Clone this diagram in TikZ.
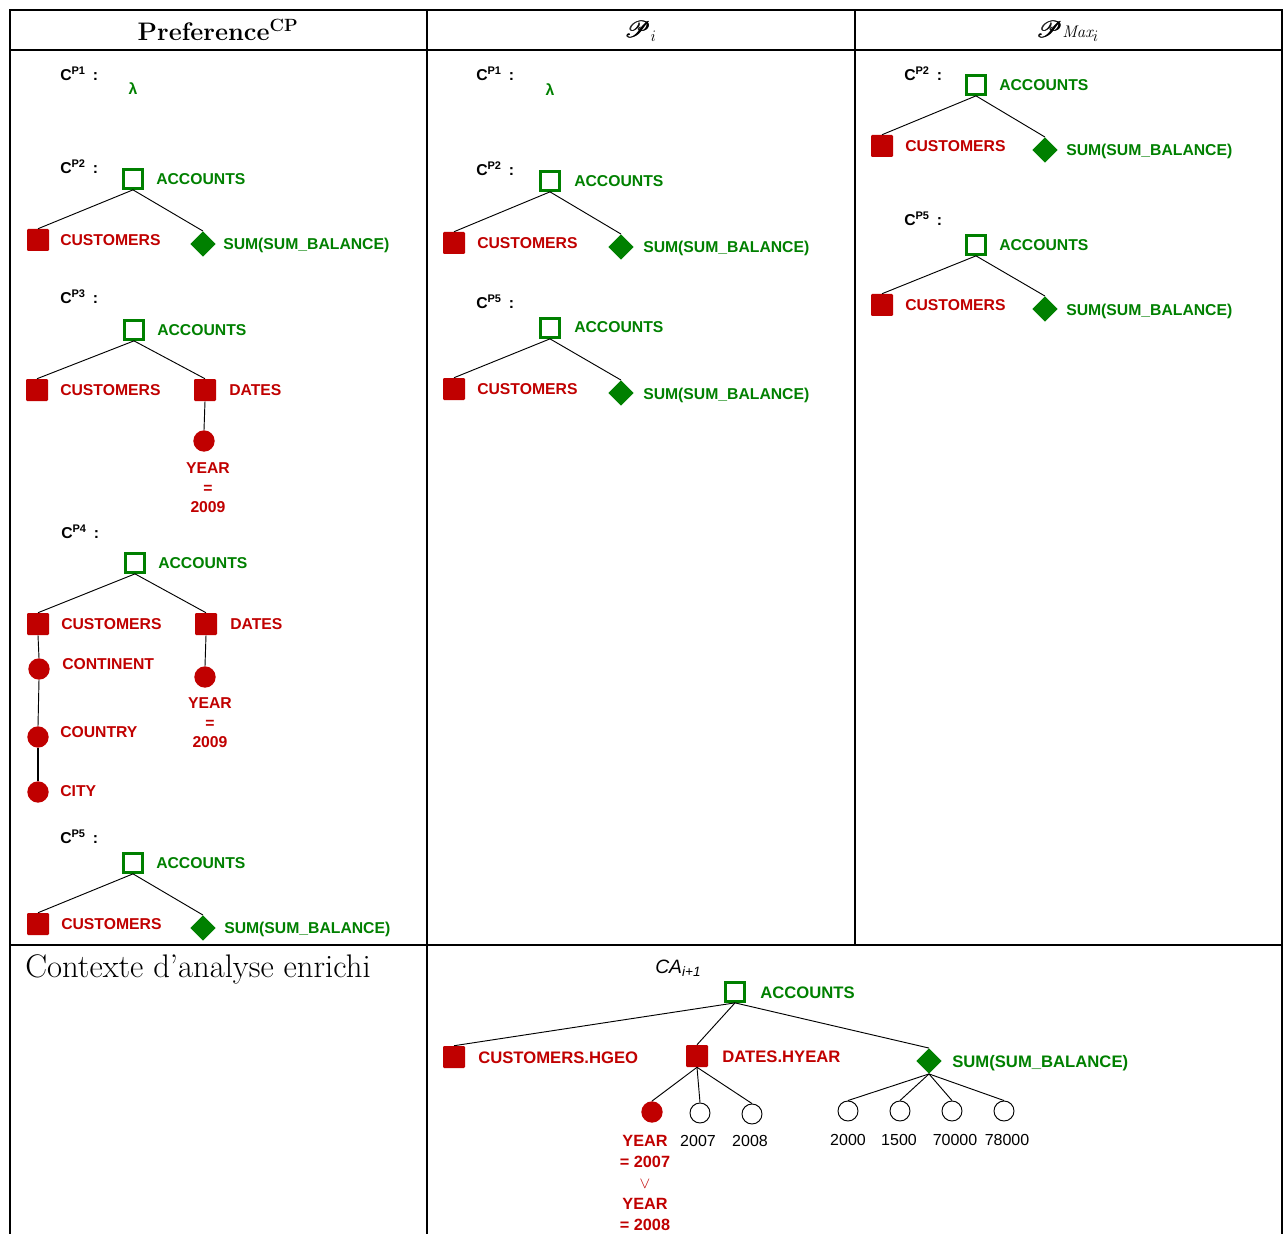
\documentclass[tikz,border=0pt]{standalone}
\usepackage{fontspec}
\usepackage{amsmath,amssymb}
\usepackage{mathrsfs}
\usetikzlibrary{shapes.geometric}
\newfontfamily\arial{Liberation Sans}
\definecolor{accclr}{RGB}{0,128,0}
\definecolor{dimclr}{RGB}{192,0,0}
\newcommand{\lblfont}{\arial\bfseries\fontsize{11.8}{14.6}\selectfont}
\tikzset{
  acc/.style={rectangle,draw=accclr,line width=1.8pt,fill=white,
              minimum size=14.5pt,inner sep=0pt},
  dim/.style={rectangle,fill=dimclr,minimum size=16.5pt,inner sep=0pt,
              rounded corners=0.8pt},
  msr/.style={diamond,fill=accclr,minimum size=19pt,inner sep=0pt},
  lvl/.style={circle,fill=dimclr,minimum size=16pt,inner sep=0pt},
  val/.style={circle,draw,line width=0.7pt,minimum size=15pt,inner sep=0pt},
  txt/.style={font=\lblfont,inner sep=0pt,anchor=west,
              text height=8.5pt,text depth=0pt},
  gtxt/.style={txt,text=accclr},
  rtxt/.style={txt,text=dimclr},
  big/.style={font=\arial\bfseries\fontsize{12.5}{15}\selectfont,text height=9pt},
  stack/.style={font=\lblfont,inner sep=0pt,align=center,text=dimclr},
  num/.style={font=\arial\fontsize{12}{14}\selectfont,inner sep=0pt,
              text height=8.6pt,text depth=0pt},
  edge/.style={line width=0.7pt},
  tbl/.style={line width=1.5pt},
  hdr/.style={inner sep=0pt},
}

\begin{document}
\begin{tikzpicture}[x=0.75pt,y=-0.75pt]
\useasboundingbox (0,0) rectangle (1283,1234);

% Table frame
\draw[tbl] (10,1234) -- (10,10) -- (1282,10) -- (1282,1234);
\draw[tbl] (10,50) -- (1282,50);
\draw[tbl] (10,945) -- (1282,945);
\draw[tbl] (427,10) -- (427,1234);
\draw[tbl] (855,10) -- (855,945);

% Headers
\node[hdr] (hPref) at (218,30) {\fontsize{19}{22}\selectfont\bfseries Preference\textsuperscript{CP}};
\node[hdr] (hPi)   at (641,31) {\fontsize{18}{20}\selectfont$\pmb{\mathscr{P}}_i$};
\node[hdr] (hPmax) at (1068,31) {\fontsize{18}{20}\selectfont$\pmb{\mathscr{P}}{\scriptstyle\mathit{Max}}_i$};
\node[hdr,anchor=west] (hCtx) at (25,969) {\fontsize{24.5}{27}\selectfont Contexte d'analyse enrichi};

% ---- Preference^CP ----
% C^P1
\node[txt] (lPa1) at (60,75) {C\textsuperscript{P1}\hspace{0.45em}:};
\node[gtxt,anchor=center] (lamPa1) at (133,89) {λ};

% C^P2
\node[txt] (lPa2) at (60,168) {C\textsuperscript{P2}\hspace{0.45em}:};
\node[acc] (accPa2) at (133,179) {};
\node[gtxt] (tAccPa2) at (156,179) {ACCOUNTS};
\node[dim] (cusPa2) at (38,240) {};
\node[rtxt] (tCusPa2) at (60,240) {CUSTOMERS};
\node[msr] (sumPa2) at (203,244) {};
\node[gtxt] (tSumPa2) at (223,244) {SUM(SUM\_BALANCE)};
\draw[edge] (accPa2.south) -- (cusPa2.north);
\draw[edge] (accPa2.south) -- (sumPa2.north);

% C^P3
\node[txt] (lPa3) at (60,298) {C\textsuperscript{P3}\hspace{0.45em}:};
\node[acc] (accPa3) at (134,330) {};
\node[gtxt] (tAccPa3) at (157,330) {ACCOUNTS};
\node[dim] (cusPa3) at (37,390) {};
\node[rtxt] (tCusPa3) at (60,390) {CUSTOMERS};
\node[dim] (datPa3) at (205,390) {};
\node[rtxt] (tDatPa3) at (229,390) {DATES};
\node[lvl] (yrPa3) at (204,441) {};
\node[stack] (tYrPa3) at (208,488) {YEAR\\=\\2009};
\draw[edge] (accPa3.south) -- (cusPa3.north);
\draw[edge] (accPa3.south) -- (datPa3.north);
\draw[edge] (datPa3.south) -- (yrPa3.north);

% C^P4
\node[txt] (lPa4) at (61,533) {C\textsuperscript{P4}\hspace{0.45em}:};
\node[acc] (accPa4) at (135,563) {};
\node[gtxt] (tAccPa4) at (158,563) {ACCOUNTS};
\node[dim] (cusPa4) at (38,624) {};
\node[rtxt] (tCusPa4) at (61,624) {CUSTOMERS};
\node[dim] (datPa4) at (206,624) {};
\node[rtxt] (tDatPa4) at (230,624) {DATES};
\node[lvl] (conPa4) at (39,669) {};
\node[rtxt] (tConPa4) at (62,664) {CONTINENT};
\node[lvl] (ctyPa4) at (38,737) {};
\node[rtxt] (tCtyPa4) at (60,732) {COUNTRY};
\node[lvl] (citPa4) at (38,792) {};
\node[rtxt] (tCitPa4) at (60,791) {CITY};
\node[lvl] (yrPa4) at (205,677) {};
\node[stack] (tYrPa4) at (210,723) {YEAR\\=\\2009};
\draw[edge] (accPa4.south) -- (cusPa4.north);
\draw[edge] (accPa4.south) -- (datPa4.north);
\draw[edge] (cusPa4.south) -- (conPa4.north);
\draw[edge] (conPa4.south) -- (ctyPa4.north);
\draw[edge,line width=1.4pt] (ctyPa4.south) -- (citPa4.north);
\draw[edge] (datPa4.south) -- (yrPa4.north);

% C^P5
\node[txt] (lPa5) at (60,838) {C\textsuperscript{P5}\hspace{0.45em}:};
\node[acc] (accPa5) at (133,863) {};
\node[gtxt] (tAccPa5) at (156,863) {ACCOUNTS};
\node[dim] (cusPa5) at (38,924) {};
\node[rtxt] (tCusPa5) at (61,924) {CUSTOMERS};
\node[msr] (sumPa5) at (203,928) {};
\node[gtxt] (tSumPa5) at (224,928) {SUM(SUM\_BALANCE)};
\draw[edge] (accPa5.south) -- (cusPa5.north);
\draw[edge] (accPa5.south) -- (sumPa5.north);

% ---- P_i ----
\node[txt] (lPi1) at (476,75) {C\textsuperscript{P1}\hspace{0.45em}:};
\node[gtxt,anchor=center] (lamPi1) at (550,90) {λ};

\node[txt] (lPi2) at (476,170) {C\textsuperscript{P2}\hspace{0.45em}:};
\node[acc] (accPi2) at (550,181) {};
\node[gtxt] (tAccPi2) at (574,181) {ACCOUNTS};
\node[dim] (cusPi2) at (454,243) {};
\node[rtxt] (tCusPi2) at (477,243) {CUSTOMERS};
\node[msr] (sumPi2) at (621,247) {};
\node[gtxt] (tSumPi2) at (643,247) {SUM(SUM\_BALANCE)};
\draw[edge] (accPi2.south) -- (cusPi2.north);
\draw[edge] (accPi2.south) -- (sumPi2.north);

\node[txt] (lPi5) at (476,303) {C\textsuperscript{P5}\hspace{0.45em}:};
\node[acc] (accPi5) at (550,328) {};
\node[gtxt] (tAccPi5) at (574,327) {ACCOUNTS};
\node[dim] (cusPi5) at (454,389) {};
\node[rtxt] (tCusPi5) at (477,389) {CUSTOMERS};
\node[msr] (sumPi5) at (621,393) {};
\node[gtxt] (tSumPi5) at (643,394) {SUM(SUM\_BALANCE)};
\draw[edge] (accPi5.south) -- (cusPi5.north);
\draw[edge] (accPi5.south) -- (sumPi5.north);

% ---- PMax_i ----
\node[txt] (lPm2) at (904,75) {C\textsuperscript{P2}\hspace{0.45em}:};
\node[acc] (accPm2) at (976,85) {};
\node[gtxt] (tAccPm2) at (999,85) {ACCOUNTS};
\node[dim] (cusPm2) at (882,146) {};
\node[rtxt] (tCusPm2) at (905,146) {CUSTOMERS};
\node[msr] (sumPm2) at (1045,150) {};
\node[gtxt] (tSumPm2) at (1066,150) {SUM(SUM\_BALANCE)};
\draw[edge] (accPm2.south) -- (cusPm2.north);
\draw[edge] (accPm2.south) -- (sumPm2.north);

\node[txt] (lPm5) at (904,220) {C\textsuperscript{P5}\hspace{0.45em}:};
\node[acc] (accPm5) at (976,245) {};
\node[gtxt] (tAccPm5) at (999,245) {ACCOUNTS};
\node[dim] (cusPm5) at (882,305) {};
\node[rtxt] (tCusPm5) at (905,305) {CUSTOMERS};
\node[msr] (sumPm5) at (1045,309) {};
\node[gtxt] (tSumPm5) at (1066,310) {SUM(SUM\_BALANCE)};
\draw[edge] (accPm5.south) -- (cusPm5.north);
\draw[edge] (accPm5.south) -- (sumPm5.north);

% ---- CA_{i+1} ----
\node[num,font=\arial\itshape\fontsize{14.5}{16}\selectfont,anchor=west] (lCA) at (655,968) {CA\textsubscript{i+1}};
\node[acc] (accCA) at (735,992) {};
\node[gtxt,big] (tAccCA) at (760,992) {ACCOUNTS};
\node[dim] (geoCA) at (454,1057) {};
\node[rtxt,big] (tGeoCA) at (478,1057) {CUSTOMERS.HGEO};
\node[dim] (yeaCA) at (697,1056) {};
\node[rtxt,big] (tYeaCA) at (722,1056) {DATES.HYEAR};
\node[msr] (sumCA) at (929,1061) {};
\node[gtxt,big] (tSumCA) at (952,1061) {SUM(SUM\_BALANCE)};
\draw[edge] (accCA.south) -- (geoCA.north);
\draw[edge] (accCA.south) -- (yeaCA.north);
\draw[edge] (accCA.south) -- (sumCA.north);

% year members
\node[lvl] (yrCA) at (652,1112) {};
\node[val] (v07) at (700,1113) {};
\node[val] (v08) at (752,1114) {};
\node[stack,font=\arial\bfseries\fontsize{12.2}{15.8}\selectfont] (tYrCA) at (645,1183)
  {YEAR\\= 2007\\$\vee$\\YEAR\\= 2008};
\node[num] (t07) at (698,1141) {2007};
\node[num] (t08) at (750,1141) {2008};
\foreach \x in {yrCA,v07,v08} \draw[edge] (yeaCA.south) -- (\x.north);

% measure values
\node[val] (m1) at (848,1111) {};
\node[val] (m2) at (900,1111) {};
\node[val] (m3) at (952,1111) {};
\node[val] (m4) at (1004,1111) {};
\node[num] (tm1) at (848,1140) {2000};
\node[num] (tm2) at (899,1140) {1500};
\node[num] (tm3) at (955,1140) {70000};
\node[num] (tm4) at (1007,1140) {78000};
\foreach \x in {m1,m2,m3,m4} \draw[edge] (sumCA.south) -- (\x.north);

\end{tikzpicture}
\end{document}
